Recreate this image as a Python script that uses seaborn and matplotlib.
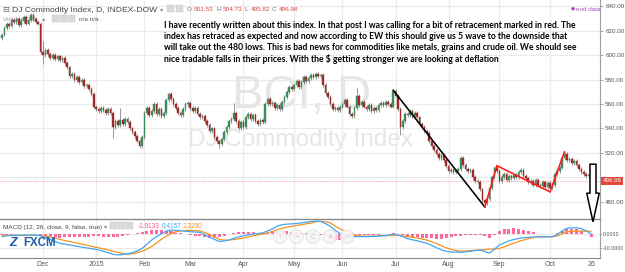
import numpy as np
import pandas as pd
import matplotlib
matplotlib.use("Agg")
import matplotlib.pyplot as plt
import seaborn as sns
from matplotlib.patches import Polygon, Circle, Rectangle
from matplotlib import font_manager as fm
from matplotlib.font_manager import FontProperties

# ---------------- data ----------------
closes = [
    617, 622, 626, 624, 629, 627, 630, 625, 628, 631, 626, 629, 633, 630, 627, 626, 603,
    600, 604, 601, 598, 600, 597, 599, 596, 598, 594, 590, 583, 585, 580, 582, 578, 580, 575, 576, 572, 568, 558,
    556, 554, 557, 555, 553, 556, 553, 541, 546, 543, 547, 544, 548, 545, 540, 537, 534, 530, 526, 533,
    553, 557, 551, 554, 560, 552, 556, 550, 553, 563, 568, 564, 560, 557, 553, 551, 556, 560, 561,
    557, 554, 557, 552, 549, 550, 546, 543, 538, 540, 533, 530, 527, 531, 537, 541, 546, 548, 553, 546, 540, 545,
    541, 549, 552, 548, 551, 546, 544, 547, 545, 560, 564, 560, 561, 557, 559, 556, 562, 566, 570, 574, 572,
    576, 579, 574, 578, 582, 579, 581, 584, 582, 585, 583, 584, 576, 569, 566, 560, 556, 557, 555, 558,
    560, 563, 558, 552, 550, 557, 567, 559, 562, 558, 556, 559, 554, 557, 555, 559, 561, 559, 562, 560, 558, 571,
    567, 556, 541, 546, 552, 551, 554, 550, 553, 549, 544, 541, 538, 536, 530, 526, 522, 519, 516, 518, 514, 509,
    505, 506, 504, 505, 507, 516, 510, 507, 505, 506, 500, 497, 496, 490, 481, 479, 482, 491, 500, 508, 505,
    497, 500, 503, 498, 501, 499, 502, 500, 504, 506, 501, 499, 496, 497, 494, 498, 494, 493, 496, 492, 495,
    491, 494, 503, 505, 508, 516, 519, 514, 515, 512, 513, 510, 507, 504, 503, 501, 501.53, 496.98,
]
first_open = 614.0
wick = 1.6
special_high = {16: 627, 17: 612, 49: 557, 96: 561, 147: 573, 162: 571.5, 205: 509.5, 233: 521, 244: 504.73}
special_low = {16: 601, 17: 593, 46: 532, 57: 524, 90: 524, 165: 535, 200: 475.6, 227: 488, 244: 495.82}

macd_x = list(range(0, 245, 2))
macd_line = [
    -1.5, -1.0, -0.6, -0.4, -0.5, -0.4, -0.3, -0.4, -0.8, -2.2,
    -3.5, -5.0, -6.3, -6.9, -7.5, -8.1, -8.7, -9.3, -9.8, -10.4,
    -11.0, -12.0, -13.0, -14.2, -14.6, -14.3, -13.8, -13.0, -11.8, -10.0,
    -7.0, -3.9, -1.6, 0.5, 2.4, 3.2, 3.0, 2.7, 2.3, 2.0,
    1.8, 1.5, -0.2, -2.0, -3.5, -5.0, -4.6, -4.0, -2.8, -1.7,
    -1.0, -0.3, 0.3, 0.6, 1.2, 2.5, 4.0, 6.0, 7.0, 7.4,
    7.6, 7.9, 8.3, 8.8, 9.2, 9.6, 9.3, 7.8, 5.8, 3.0,
    0.6, -0.8, -1.5, -1.6, -1.5, -1.5, -1.5, -1.4, -1.2, -0.8,
    -0.5, 0.3, -0.3, -1.5, -3.0, -3.8, -4.5, -5.4, -6.3, -7.8,
    -9.5, -11.0, -12.0, -12.5, -12.6, -12.7, -12.4, -12.0, -11.5, -11.0,
    -12.2, -13.3, -10.5, -7.5, -6.0, -4.5, -3.6, -2.8, -2.4, -2.0,
    -1.8, -1.6, -1.6, -1.6, -1.6, 0.0, 2.5, 4.4, 4.7, 4.8,
    4.2, 2.5, 0.4157,
]
signal_line = [
    -0.5, -0.6, -0.7, -0.7, -0.8, -0.7, -0.6, -0.6, -0.8, -1.2,
    -1.8, -2.6, -3.5, -4.3, -5.0, -5.8, -6.5, -7.3, -8.0, -8.8,
    -9.5, -10.3, -11.0, -12.0, -12.8, -13.6, -14.0, -13.8, -13.0, -12.0,
    -10.5, -8.5, -6.0, -3.5, -1.2, 0.6, 2.0, 2.6, 2.9, 3.0,
    2.8, 2.5, 1.4, 0.0, -1.8, -3.5, -4.0, -4.0, -3.6, -3.1,
    -2.6, -1.8, -1.0, -0.3, 0.3, 1.2, 2.2, 3.5, 4.4, 5.2,
    5.8, 6.5, 7.0, 7.6, 8.2, 9.1, 9.5, 9.0, 8.4, 6.0,
    4.0, 2.5, 1.0, -0.2, -1.0, -1.2, -1.2, -1.1, -1.0, -0.9,
    -0.8, -0.6, -0.6, -1.0, -1.5, -2.0, -2.5, -3.2, -4.0, -5.2,
    -6.5, -8.0, -9.6, -10.6, -11.4, -12.0, -11.8, -11.5, -11.2, -11.0,
    -10.8, -10.5, -10.3, -10.0, -8.8, -7.5, -6.2, -5.0, -4.0, -3.0,
    -2.3, -1.7, -1.6, -1.6, -1.6, -1.0, 0.4, 2.0, 2.2, 2.4,
    2.5, 2.4, 2.329,
]
hist_vals = [
    -0.5, -0.4, -0.2, 0.2, 0.3, 0.3, 0.4, 0.2, -0.3, -1.0,
    -1.5, -2.0, -2.2, -2.0, -1.8, -1.8, -1.6, -1.6, -1.5, -1.4,
    -1.4, -1.6, -1.8, -1.8, -1.6, -0.8, -0.2, 0.6, 1.2, 1.8,
    2.8, 3.4, 3.5, 3.2, 2.8, 2.2, 1.4, 0.8, 0.4, -0.4,
    -0.8, -1.2, -1.8, -2.2, -2.2, -1.8, -0.8, 0.0, 1.0, 1.6,
    1.8, 2.0, 1.6, 1.2, 1.0, 1.4, 2.0, 2.6, 2.4, 2.2,
    1.8, 1.6, 1.4, 1.2, 1.0, 0.6, -0.2, -1.4, -2.8, -3.6,
    -4.2, -3.6, -2.6, -1.6, -0.6, -0.3, -0.3, -0.2, -0.2, 0.2,
    0.4, 1.2, 0.4, -0.6, -1.4, -1.8, -2.0, -2.2, -2.4, -2.6,
    -3.0, -3.0, -2.6, -2.0, -1.4, -0.8, -0.6, -0.6, -0.4, -0.2,
    -1.2, -2.6, -0.4, 2.6, 3.6, 4.2, 4.4, 4.0, 3.4, 2.6,
    1.6, 0.6, 0.2, 0.2, 0.2, 1.2, 2.6, 3.6, 4.0, 3.8,
    2.8, 0.6, -1.9133,
]
month_idx = [17, 39, 59, 78, 100, 121, 141, 163, 185, 206, 227, 244]
month_labels = ["Dec", "2015", "Feb", "Mar", "Apr", "May", "Jun", "Jul", "Aug", "Sep", "Oct", "26"]
price_ticks = [480, 500, 520, 540, 560, 580, 600, 620, 640]
macd_ticks = [0, -10]
last_o, last_h, last_l, last_c = 501.53, 504.73, 495.82, 496.98
macd_vals_text = ["-1.9133", "0.4157", "2.3290"]
black_wave = [(162, "high"), (200, "low")]
red_wave = [(200, "low"), (205, "high"), (227, "low"), (233, "high")]
note_lines = [
    "I have recently written about this index. In that post I was calling for a bit of retracement marked in red. The",
    "index has retraced as expected and now according to EW this should give us 5 wave to the downside that",
    "will take out the 480 lows. This is bad news for commodities like metals, grains and crude oil. We should see",
    "nice tradable falls in their prices. With the $ getting stronger we are looking at deflation",
]
assert len(macd_line) == len(signal_line) == len(hist_vals) == len(macd_x)

# ---------------- figure ----------------
sns.set_theme(style="white")
plt.rcParams['font.family'] = ['Liberation Sans', 'DejaVu Sans']

W, H = 625, 272
fig = plt.figure(figsize=(W / 100, H / 100), dpi=100)
fig.patch.set_facecolor('white')

def fx(x):
    return x / W

def fy(y):
    return 1 - y / H

K_LEFT, K_RIGHT = -0.83, 247.7
ax = fig.add_axes([0, fy(219), fx(600), 219 / H])
axm = fig.add_axes([0, fy(258), fx(600), 39 / H])
ax.set_zorder(3)
axm.set_zorder(1)
ax.patch.set_alpha(0)

GRID = '#ebebeb'
UP, DOWN = '#3c8b5a', '#9e2b27'

df = pd.DataFrame({'k': np.arange(len(closes)), 'close': np.array(closes, float)})
df['open'] = [first_open] + list(closes[:-1])
df['high'] = np.maximum(df.open, df.close) + wick
df['low'] = np.minimum(df.open, df.close) - wick
for i, v in special_high.items():
    df.loc[i, 'high'] = v
for i, v in special_low.items():
    df.loc[i, 'low'] = v

# main pane
ax.set_xlim(K_LEFT, K_RIGHT)
ax.set_ylim(465.8, 645.3)
for m in month_idx[:-1]:
    ax.axvline(m, color=GRID, lw=0.9, zorder=0)
for p in price_ticks:
    ax.axhline(p, color=GRID, lw=0.9, zorder=0)

ax.text(fx(302), fy(108), 'BCI, D', transform=fig.transFigure, ha='center', va='baseline',
        fontsize=34, color='#e6e6e6', zorder=0.5, family='Liberation Sans')
ax.text(fx(300), fy(146), 'DJ Commodity Index', transform=fig.transFigure, ha='center', va='baseline',
        fontsize=17.5, color='#e6e6e6', zorder=0.5, family='Liberation Sans')

ax.vlines(df.k, df.low, df.high, color='#7a7a7a', lw=0.55, zorder=2)
body_h = (df.close - df.open).abs().clip(lower=0.6)
bottom = np.minimum(df.open, df.close)
cols = np.where(df.close >= df.open, UP, DOWN)
ax.bar(df.k, body_h, bottom=bottom, width=0.68, color=cols, edgecolor=cols, linewidth=0.3, zorder=3)

ax.axhline(last_c, color='#f05a50', lw=0.5, ls=(0, (1.0, 1.6)), zorder=4)

def wave_xy(pts):
    xs = [i for i, kind in pts]
    ys = [df.loc[i, kind] for i, kind in pts]
    return xs, ys

bx, by = wave_xy(black_wave)
ax.plot(bx, by, color='black', lw=1.15, zorder=5, solid_capstyle='round')
rx, ry = wave_xy(red_wave)
ax.plot(rx, ry, color='#ff1a1a', lw=1.15, zorder=5, solid_joinstyle='miter')

# hollow down arrow after last candle
cx = df.k.iloc[-1] + 0.8
top, neck, tip = 510.7, 487.0, 463.5
arrow = Polygon([(cx - 1.25, top), (cx + 1.25, top), (cx + 1.25, neck), (cx + 2.6, neck),
                 (cx, tip), (cx - 2.6, neck), (cx - 1.25, neck)], closed=True,
                facecolor='white', edgecolor='black', lw=1.1, zorder=6, clip_on=False, joinstyle='miter')
ax.add_patch(arrow)

ax.set_yticks(price_ticks)
# the 500.00 label is hidden under the last-price marker in the reference
ax.set_yticklabels(['' if p == 500 else f'{p:.2f}' for p in price_ticks])
ax.yaxis.tick_right()
ax.tick_params(axis='y', which='both', right=True, left=False, length=2.5, width=0.6, color='#999999',
               labelsize=4.5, labelcolor='#555555', pad=1.2)
ax.set_xticks([])
for s in ['top', 'left']:
    ax.spines[s].set_visible(False)
ax.spines['right'].set_color('#a0a0a0')
ax.spines['right'].set_linewidth(0.8)
ax.spines['bottom'].set_color('#8a8a8a')
ax.spines['bottom'].set_linewidth(1.0)

ax.text(1.0 + 2.5 / 600, last_c, f'{last_c:.2f}', transform=ax.get_yaxis_transform(), ha='left', va='center',
        fontsize=4.5, color='white', zorder=7,
        bbox=dict(boxstyle='square,pad=0.3', fc='#e0463c', ec='none'), clip_on=False)

# MACD pane
axm.set_xlim(K_LEFT, K_RIGHT)
axm.set_ylim(-16.8, 11.07)
for m in month_idx[:-1]:
    axm.axvline(m, color=GRID, lw=0.9, zorder=0)
for t in macd_ticks:
    axm.axhline(t, color=GRID, lw=0.9, zorder=0)
axm.bar(macd_x, hist_vals, width=1.25, color='#ff4f8f', alpha=0.85, zorder=2, linewidth=0)
sns.lineplot(x=macd_x, y=signal_line, ax=axm, color='#f7931e', lw=0.9, zorder=3)
sns.lineplot(x=macd_x, y=macd_line, ax=axm, color='#3fa7f5', lw=0.9, zorder=4)
axm.set_yticks(macd_ticks)
axm.set_yticklabels(['0.0000', '-10.0000'])
axm.yaxis.tick_right()
axm.tick_params(axis='y', which='both', right=True, left=False, length=1.5, width=0.6, color='#999999',
                labelsize=3.8, labelcolor='#555555', pad=0.4)
axm.set_xticks(month_idx)
axm.set_xticklabels(month_labels)
axm.tick_params(axis='x', length=0, labelsize=5, labelcolor='#555555', pad=2.5)
axm.set_xlabel('')
axm.set_ylabel('')
for s in ['top', 'left']:
    axm.spines[s].set_visible(False)
axm.spines['right'].set_color('#a0a0a0')
axm.spines['right'].set_linewidth(0.8)
axm.spines['bottom'].set_color('#8a8a8a')
axm.spines['bottom'].set_linewidth(0.8)

# ---------------- header / UI texts ----------------
renderer = fig.canvas.get_renderer()

def box(x, y, w=7, h=7, fc='#dadada'):
    fig.patches.append(Rectangle((fx(x), fy(y + h)), w / W, h / H, transform=fig.transFigure,
                                 facecolor=fc, edgecolor='#c8c8c8', lw=0.3, zorder=5))

def chain(items, x0, y, gap, **kw):
    """Place text pieces one after the other; returns the x where the next would start."""
    x = x0
    for s, c, fam in items:
        t = fig.text(fx(x), fy(y), s, color=c, family=fam, **kw)
        x += t.get_window_extent(renderer=renderer).width + gap
    return x

sym = ['DejaVu Sans']
txt = ['Liberation Sans', 'DejaVu Sans']

fig.text(fx(2.5), fy(11.5), '\u229f', fontsize=6, color='#666666', family=sym)
xe = chain([('DJ Commodity Index, D, INDEX-DOW', '#444444', txt)], 12.5, 11.5, 2, fontsize=6.1)
chain([('\u25be', '#888888', sym)], xe, 11.5, 0, fontsize=4.5)
box(167, 5)
box(176, 5)
chain([('O', '#777777', txt), (f'{last_o:.2f}', '#e0463c', txt), ('H', '#777777', txt),
       (f'{last_h:.2f}', '#e0463c', txt), ('L', '#777777', txt), (f'{last_l:.2f}', '#e0463c', txt),
       ('C', '#777777', txt), (f'{last_c:.2f}', '#e0463c', txt)], 187, 11, 2.2, fontsize=4.6)

fig.text(fx(3), fy(21), 'Volume (20)', fontsize=4.6, color='#555555', alpha=0.6)
fig.text(fx(42), fy(21), '\u25be', fontsize=4.5, color='#888888', family=sym)
box(52, 15)
box(60, 15)
box(68, 15)
fig.text(fx(79), fy(21), 'n/a n/a', fontsize=4.6, color='#555555')

fig.patches.append(Circle((573 / 100, (H - 8.7) / 100), 0.018, transform=fig.dpi_scale_trans,
                          facecolor='#b04ac0', edgecolor='none'))
fig.text(fx(576), fy(11), 'eod data', fontsize=4.5, color='#b04ac0')

# note text, fitted to the width it occupies in the reference
try:
    fm.findfont(FontProperties(family='Liberation Sans Narrow'), fallback_to_default=False)
    note_font = 'Liberation Sans Narrow'
except Exception:
    note_font = 'Lato'
baselines = [27.8, 39.1, 50.3, 61.6]
note_objs = [fig.text(fx(164), fy(b), s, fontsize=7.0, fontweight='bold', color='black',
                      family=[note_font, 'DejaVu Sans'], zorder=6) for s, b in zip(note_lines, baselines)]
w0 = note_objs[0].get_window_extent(renderer=renderer).width
fs = 7.0 * 419 / w0
for t in note_objs:
    t.set_fontsize(fs)

# MACD header
xe = chain([('MACD (12, 26, close, 9, false, true)', '#444444', txt)], 3, 228.5, 1.5, fontsize=4.6)
xe = chain([('\u25be', '#888888', sym)], xe, 228.5, 3, fontsize=4.5)
for i in range(3):
    box(xe + i * 8, 222)
chain([(s, c, txt) for s, c in zip(macd_vals_text, ['#ff4f8f', '#3fa7f5', '#f7931e'])],
      xe + 28, 228.5, 1.8, fontsize=4.7)

# FXCM logo
fig.text(fx(9.5), fy(245.5), 'Z', fontsize=9, fontweight='bold', fontstyle='italic', color='#1d5ea8')
fig.text(fx(23), fy(245.5), 'FXCM', fontsize=8.3, fontweight='bold', color='#1d5ea8')

# navigation buttons
for x, s in zip([280, 296.5, 313, 330, 347], ['\u2039', '\u2212', 'C', '+', '\u203a']):
    fig.patches.append(Circle((x / 100, (H - 236.7) / 100), 0.068, transform=fig.dpi_scale_trans,
                              facecolor='#f6f6f6', edgecolor='#dddddd', lw=0.6, alpha=0.9, zorder=5))
    fig.text(fx(x), fy(236.7), s, fontsize=5, color='#c4c4c4', ha='center', va='center',
             family=sym, zorder=6)

fig.savefig('out.png', dpi=100, facecolor='white')
